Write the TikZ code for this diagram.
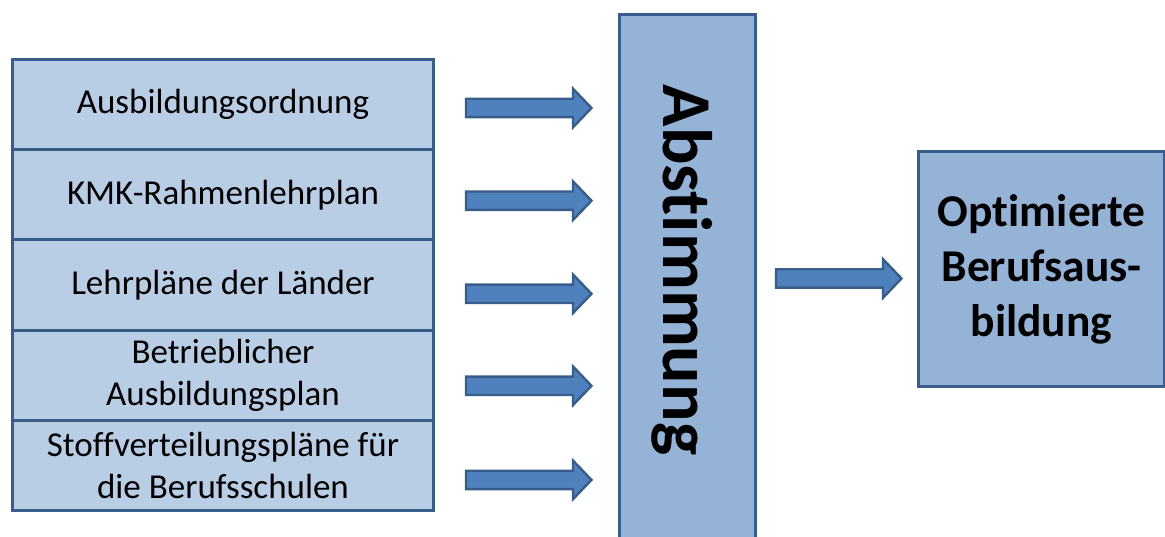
\documentclass[tikz,border=0pt]{standalone}
\usepackage{fontspec}
\setmainfont{Carlito}[Ligatures=NoCommon]
\usetikzlibrary{calc}
\definecolor{lightfill}{HTML}{B9CDE5}
\definecolor{midfill}{HTML}{95B3D7}
\definecolor{arrowfill}{HTML}{4F81BD}
\definecolor{edgeblue}{HTML}{385D8A}
\tikzset{
  srcbox/.style={draw=edgeblue, fill=lightfill, line width=3pt,
    minimum width=421pt, minimum height=90.2pt, anchor=north west,
    align=center, inner sep=0pt, font=\fontsize{35}{42.5}\selectfont},
  bigbox/.style={draw=edgeblue, fill=midfill, line width=3pt, inner sep=0pt},
  fatarrow/.pic={
    \draw[draw=edgeblue, fill=arrowfill, line width=2.4pt, line join=miter]
      (0,-9.2) -- (107,-9.2) -- (107,-19.3) -- (125.5,0) -- (107,19.3)
      -- (107,9.2) -- (0,9.2) -- cycle;
  }
}
\begin{document}
\begin{tikzpicture}[x=1pt,y=-1pt]
\useasboundingbox (0,0) rectangle (1165,537);
% source boxes
\node[srcbox] (b1) at (11,58) {Ausbildungsordnung};
\node[srcbox] (b2) at (11,148.2) {KMK-Rahmenlehrplan};
\node[srcbox] (b3) at (11,238.4) {Lehrpläne der Länder};
\node[srcbox] (b4) at (11,328.6) {Betrieblicher\\Ausbildungsplan};
\node[srcbox] (b5) at (11,418.8) {Stoffverteilungspläne für\\die Berufsschulen};
% Abstimmung
\node[bigbox, anchor=north west, minimum width=136pt, minimum height=540pt] (abst) at (618,13) {};
\node[rotate=-90, font=\fontsize{70}{84}\bfseries\selectfont, inner sep=0pt] (abstlabel) at (682,270) {Abstimmung};
% result
\node[bigbox, anchor=north west, minimum width=246pt, minimum height=235pt,
  align=center, font=\fontsize{45.5}{55}\bfseries\selectfont] (res) at (917,150)
  {Optimierte\\Berufsaus-\\bildung};
% arrows
\pic at ($(b1.east)+(31,3.4)$) {fatarrow};
\pic at ($(b2.east)+(31,5.9)$) {fatarrow};
\pic at ($(b3.east)+(31,8.8)$) {fatarrow};
\pic at ($(b4.east)+(31,10.6)$) {fatarrow};
\pic at ($(b5.east)+(31,14.5)$) {fatarrow};
\pic at ($(abst.east |- res.west)+(19,9.5)$) {fatarrow};
\end{tikzpicture}
\end{document}
